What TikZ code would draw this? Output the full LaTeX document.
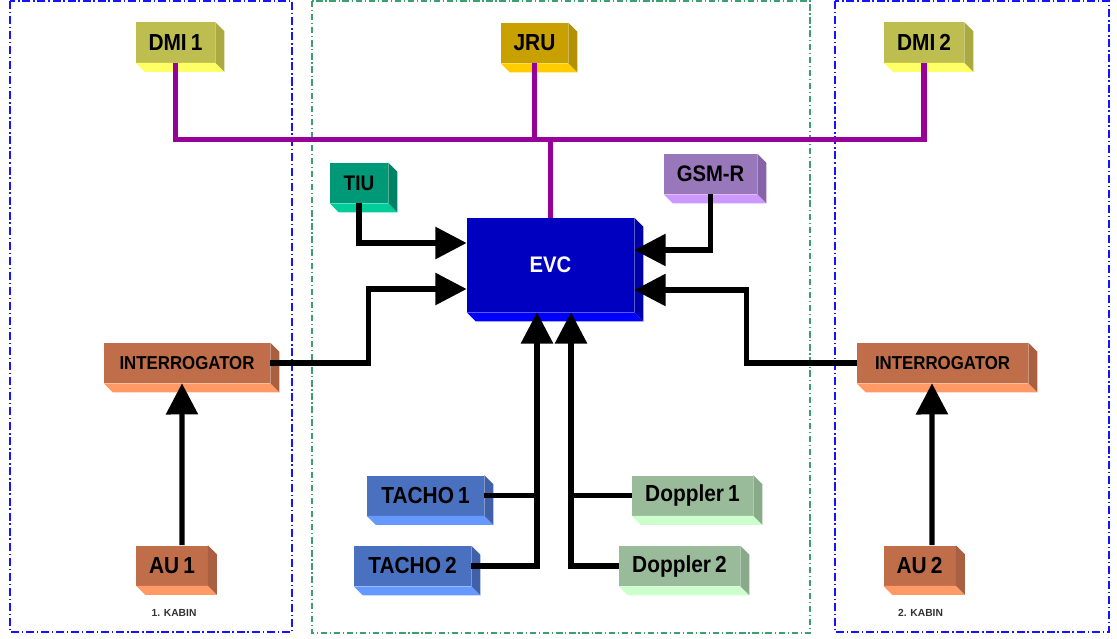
\documentclass[tikz,border=0pt]{standalone}
\usepackage{fontspec}
\setmainfont{Liberation Sans}[FakeStretch=0.9, WordSpace=0.7]
\newfontfamily\capfont{Liberation Sans}
\usepackage{xcolor}
\usetikzlibrary{calc}
\usetikzlibrary{arrows.meta}

\definecolor{dmiF}{RGB}{190,190,80}   \definecolor{dmiB}{RGB}{255,255,102} \definecolor{dmiS}{RGB}{170,170,64}
\definecolor{jruF}{RGB}{200,160,0}    \definecolor{jruB}{RGB}{255,204,0}   \definecolor{jruS}{RGB}{180,145,0}
\definecolor{tiuF}{RGB}{0,153,119}    \definecolor{tiuB}{RGB}{0,204,153}   \definecolor{tiuS}{RGB}{0,130,100}
\definecolor{gsmF}{RGB}{153,119,187}  \definecolor{gsmB}{RGB}{204,153,255} \definecolor{gsmS}{RGB}{135,100,170}
\definecolor{evcF}{RGB}{0,0,192}      \definecolor{evcB}{RGB}{0,0,255}     \definecolor{evcS}{RGB}{0,0,170}
\definecolor{intF}{RGB}{192,110,74}   \definecolor{intB}{RGB}{255,153,102} \definecolor{intS}{RGB}{170,95,65}
\definecolor{tacF}{RGB}{74,112,192}   \definecolor{tacB}{RGB}{102,153,255} \definecolor{tacS}{RGB}{64,96,170}
\definecolor{dopF}{RGB}{153,187,153}  \definecolor{dopB}{RGB}{204,255,204} \definecolor{dopS}{RGB}{136,170,136}
\definecolor{busc}{RGB}{153,0,153}
\definecolor{frameblue}{RGB}{20,20,255}
\definecolor{framegreen}{RGB}{60,160,110}

\tikzset{
  unit/.style={inner sep=0pt, minimum height=1cm, font=\fontsize{16.5}{19}\selectfont\bfseries},
  conn/.style={line width=3.6pt, black},
  arr/.style={conn, -{Triangle[length=0.78cm,width=0.78cm]}},
  bus/.style={line width=3.8pt, busc},
  kabin/.style={frameblue, line width=1.3pt, dash pattern=on 5.7pt off 2pt on 1pt off 2pt},
  core/.style={framegreen, line width=1pt, dash pattern=on 4.5pt off 2pt on 0.8pt off 2pt},
  caption/.style={font=\capfont\fontsize{7.3}{9}\selectfont\bfseries, text=black!80}
}

% box with bottom and side faces: [style] name, x, y, width, colour, text
\newcommand{\unitnode}[7][]{%
  \node[unit, fill=#6F, minimum width=#5cm, #1] (#2) at (#3,#4) {#7};
  \fill[#6B] (#2.south west) -- (#2.south east) -- ++(9,9) -- ([shift={(9,9)}]#2.south west) -- cycle;
  \fill[#6S] (#2.north east) -- ++(9,9) -- ([shift={(9,9)}]#2.south east) -- (#2.south east) -- cycle;
}

\begin{document}
\begin{tikzpicture}[x=0.025cm, y=-0.025cm]
\useasboundingbox (0,0) rectangle (1117,638);

% frames
\draw[kabin] (10,1) rectangle (292,632);
\draw[core] (312,1) rectangle (810,633);
\draw[kabin] (835,1) rectangle (1109,632);

% units
\unitnode{dmi1}{175.5}{42.5}{1.98}{dmi}{DMI 1}
\unitnode{jru}{534.5}{43}{1.68}{jru}{JRU}
\unitnode{dmi2}{924}{42.5}{2}{dmi}{DMI 2}
\unitnode[font=\fontsize{15}{18}\selectfont\bfseries]{tiu}{359}{183}{1.45}{tiu}{TIU}
\unitnode[font=\fontsize{16}{19}\selectfont\bfseries]{gsmr}{710.5}{174}{2.33}{gsm}{GSM-R}
\unitnode[minimum height=2.35cm, text=white, font=\fontsize{16}{19}\selectfont\bfseries]{evc}{550.5}{265}{4.18}{evc}{EVC}
\unitnode[font=\fontsize{13.3}{16}\selectfont\bfseries]{int1}{187}{363}{4.15}{int}{INTERROGATOR}
\unitnode[font=\fontsize{13.3}{16}\selectfont\bfseries]{int2}{942.5}{363}{4.28}{int}{INTERROGATOR}
\unitnode{au1}{172}{565.5}{1.78}{int}{AU 1}
\unitnode{au2}{919.5}{565.5}{1.8}{int}{AU 2}
\unitnode{tacho1}{425.5}{495.5}{2.93}{tac}{TACHO 1}
\unitnode{tacho2}{412.5}{566}{2.93}{tac}{TACHO 2}
\unitnode{dop1}{692.5}{495.5}{3.03}{dop}{Doppler 1}
\unitnode{dop2}{679.5}{566}{3.03}{dop}{Doppler 2}

% bus
\coordinate (bus) at ([yshift=1.95cm]evc.north);
\draw[bus] (dmi1.south) |- (bus) -| (dmi2.south);
\draw[bus] (jru.south) -- (jru.south |- bus);
\draw[bus] (evc.north) -- (bus);

% inputs to EVC
\draw[arr] (tiu.south) |- ([yshift=0.55cm]evc.west);
\draw[arr] (int1.east) -- ++(98,0) |- ([yshift=-0.6cm]evc.west);
\draw[arr] (gsmr.south) |- ([yshift=0.375cm]evc.east);
\draw[arr] (int2.west) -- ++(-110,0) |- ([yshift=-0.625cm]evc.east);

\coordinate (tj) at ([xshift=-0.3375cm]evc.south);
\coordinate (dj) at ([xshift=0.5125cm]evc.south);
\draw[arr] (tacho2.east) -| (tj);
\draw[conn] (tacho1.east) -- (tacho1.east -| tj);
\draw[arr] (dop2.west) -| (dj);
\draw[conn] (dop1.west) -- (dop1.west -| dj);

% antennas
\draw[arr] ([xshift=0.25cm]au1.north) -- ([xshift=-0.125cm]int1.south);
\draw[arr] ([xshift=0.3125cm]au2.north) -- ([xshift=-0.2625cm]int2.south);

\node[caption] (kab1) at (174,613) {1. KABIN};
\node[caption] (kab2) at (920.5,613) {2. KABIN};
\end{tikzpicture}
\end{document}
